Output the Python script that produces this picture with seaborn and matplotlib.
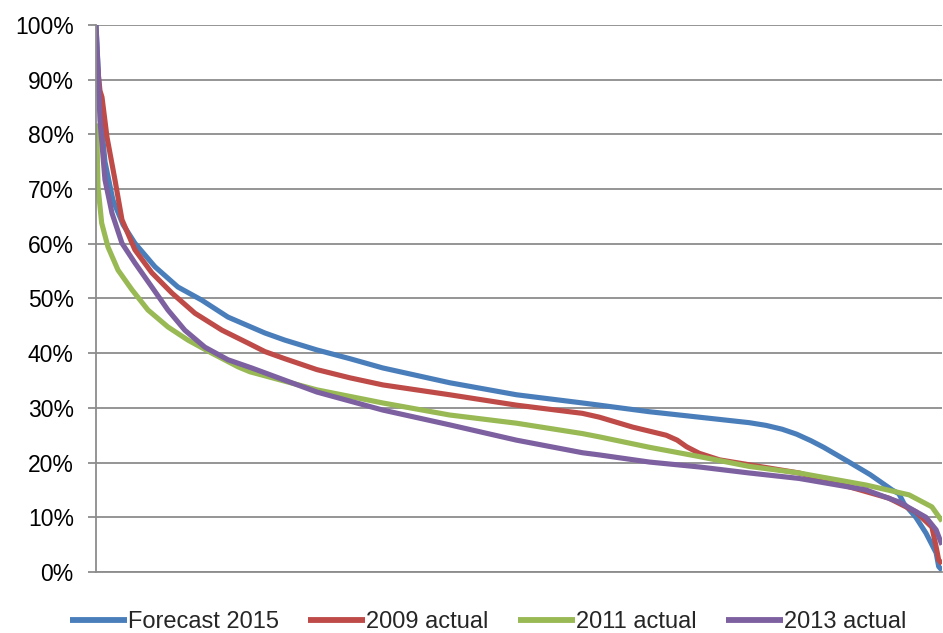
import numpy as np
import pandas as pd
import matplotlib
matplotlib.use("Agg")
import matplotlib.pyplot as plt
import seaborn as sns
from matplotlib.ticker import FuncFormatter

# ---- data (x = % of hours, y = % load) ----
series_names = ["Forecast 2015", "2009 actual", "2011 actual", "2013 actual"]

fc2015_x = [0, 0.47, 1.06, 2.0, 3.2, 4.6, 6.97, 9.68, 12.5, 15.6, 19.95, 22.3, 26.1, 30,
            33.9, 41.8, 49.7, 57.5, 59.5, 65.4, 71.3, 77.2, 79.2, 81.1, 82.8, 84.5, 86.0,
            89.0, 91.5, 94.1, 94.9, 95.5, 96.9, 98.1, 99.3, 99.6, 100]
fc2015_y = [100, 85, 75, 68, 63.5, 60.1, 55.8, 52.1, 49.7, 46.6, 43.7, 42.4, 40.6, 39,
            37.3, 34.6, 32.4, 30.9, 30.5, 29.3, 28.3, 27.3, 26.8, 26.1, 25.2, 24.0, 22.8,
            20.1, 17.8, 15.0, 14.3, 12.5, 10.0, 7.1, 3.5, 1.0, 0.3]

a2009_x = [0, 0.47, 0.71, 1.3, 2.24, 3.07, 4.6, 6.6, 8.97, 11.7, 14.9, 17.9, 19.95, 22.3,
           26.1, 30, 33.9, 41.8, 49.7, 57.5, 59.5, 63.4, 67.4, 68.7, 69.8, 71.3, 73.7,
           77.2, 83.1, 86.7, 93.7, 96.9, 98.8, 99.3, 99.6, 100]
a2009_y = [95, 88, 86.8, 79.5, 71.7, 64.4, 58.9, 54.7, 51.0, 47.3, 44.2, 41.9, 40.3, 39.0,
           37, 35.5, 34.2, 32.4, 30.5, 29, 28.3, 26.5, 25.0, 24.1, 22.9, 21.7, 20.5,
           19.6, 18.1, 16.6, 13.5, 11.0, 8.2, 4.6, 2.2, 1.5]

a2011_x = [0, 0.12, 0.24, 0.67, 1.42, 2.6, 4.25, 6.14, 8.5, 10.86, 13.7, 16.8, 18.2, 26.1,
           33.9, 41.8, 49.7, 57.5, 59.5, 65.4, 71.3, 77.2, 83.1, 91.0, 96.1, 98.8, 99.9,
           100]
a2011_y = [82, 79, 70.4, 63.8, 59.4, 55.2, 51.6, 47.9, 44.8, 42.4, 40.0, 37.5, 36.6, 33.3,
           30.9, 28.7, 27.2, 25.3, 24.7, 22.8, 21.1, 19.3, 18.1, 15.9, 14.1, 11.9, 9.5,
           9.3]

a2013_x = [0, 0.24, 0.47, 1.06, 1.89, 3.07, 4.6, 6.6, 8.5, 10.5, 12.87, 15.6, 18.4, 26.1,
           33.9, 41.8, 49.7, 57.5, 59.5, 65.4, 71.3, 77.2, 83.1, 91.0, 94.9, 98.1, 99.3,
           99.9, 100]
a2013_y = [100, 92, 82.6, 71.7, 65.6, 60.1, 56.5, 52.1, 47.9, 44.2, 41.1, 38.8, 37.3, 32.9,
           29.6, 26.9, 24.1, 21.8, 21.4, 20.1, 19.2, 18.1, 17.1, 15.0, 12.8, 10.0, 7.7,
           5.3, 5.0]

y_ticks = [0, 10, 20, 30, 40, 50, 60, 70, 80, 90, 100]
colors = ["#4A7EBB", "#BE4B48", "#98B954", "#7D60A0"]

frames = []
for name, xs, ys in zip(series_names,
                        [fc2015_x, a2009_x, a2011_x, a2013_x],
                        [fc2015_y, a2009_y, a2011_y, a2013_y]):
    frames.append(pd.DataFrame({"hours": xs, "load": ys, "series": name}))
df = pd.concat(frames, ignore_index=True)

sns.set_style("white")
plt.rcParams["font.family"] = ["Liberation Sans", "DejaVu Sans"]

fig = plt.figure(figsize=(9.43, 6.33), dpi=100)
ax = fig.add_axes([0.1018, 0.0964, 0.8972, 0.8641])

sns.lineplot(data=df, x="hours", y="load", hue="series", hue_order=series_names,
             palette=colors, linewidth=3.7, sort=False, estimator=None, ax=ax,
             legend=True)
for ln in ax.get_lines():
    ln.set_solid_joinstyle("round")
    ln.set_solid_capstyle("butt")

ax.set_xlim(0, 100)
ax.set_ylim(0, 100)
ax.set_yticks(y_ticks)
ax.yaxis.set_major_formatter(FuncFormatter(lambda v, p: f"{int(round(v))}%"))
ax.set_xticks([])
ax.set_xlabel("")
ax.set_ylabel("")
ax.grid(axis="y", color="#8C8C8C", linewidth=1.3)
ax.set_axisbelow(True)
for s in ["top", "right"]:
    ax.spines[s].set_visible(False)
for s in ["left", "bottom"]:
    ax.spines[s].set_color("#8C8C8C")
    ax.spines[s].set_linewidth(1.3)
ax.tick_params(axis="y", which="major", direction="out", length=6, width=1.3,
               color="#8C8C8C", labelsize=16.5, labelcolor="black", pad=10, left=True)

handles, labels = ax.get_legend_handles_labels()
ax.legend_.remove()
leg = fig.legend(handles, labels, loc="center", bbox_to_anchor=(0.5175, 0.017),
                 ncol=4, frameon=False, fontsize=17, handlelength=2.4,
                 handletextpad=0.05, columnspacing=1.25, borderaxespad=0)
for h in leg.get_lines():
    h.set_linewidth(4.2)

fig.savefig("out.png", dpi=100)
